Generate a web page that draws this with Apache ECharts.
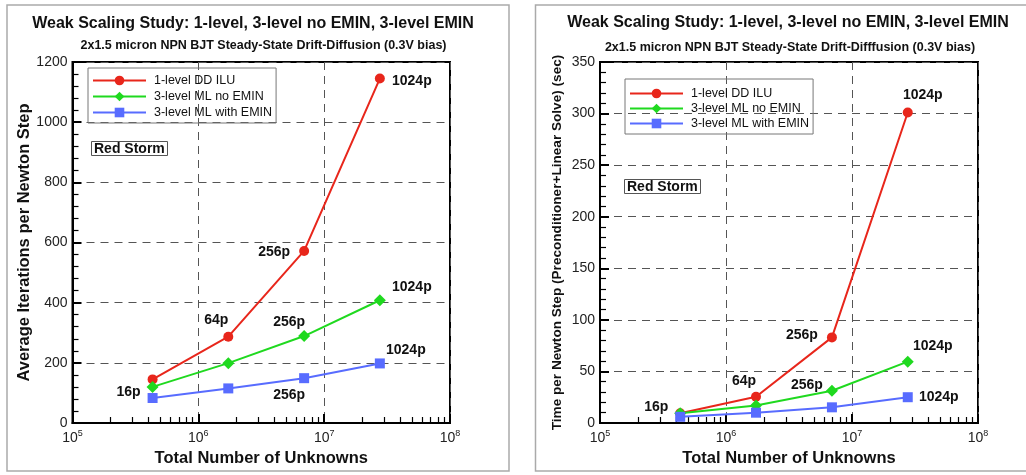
<!DOCTYPE html>
<html><head><meta charset="utf-8">
<script src="https://cdn.jsdelivr.net/npm/echarts@6/dist/echarts.min.js"></script>
<style>html,body{margin:0;padding:0;background:#fff}#c{width:1026px;height:475px}</style>
</head><body><div id="c"></div>
<script>
// ---------- data ----------
const unknowns = [4.33e5, 1.73e6, 6.93e6, 2.77e7];
const seriesNames = ['1-level DD ILU', '3-level ML no EMIN', '3-level ML with EMIN'];
const iterRed   = [145, 287, 572, 1145];
const iterGreen = [120, 199, 289, 408];
const iterBlue  = [83, 115, 149, 198];
const timeRed   = [9.5, 25.5, 83, 301];
const timeGreen = [9.5, 17, 31.3, 59.5];
const timeBlue  = [6, 10, 15.2, 25];
const iterLabelsRed   = ['', '64p', '256p', '1024p'];
const iterLabelsGreen = ['16p', '', '256p', '1024p'];
const iterLabelsBlue  = ['', '', '256p', '1024p'];
const timeLabelsRed   = ['', '64p', '256p', '1024p'];
const timeLabelsGreen = ['16p', '', '256p', '1024p'];
const timeLabelsBlue  = ['', '', '', '1024p'];
const xRange = [1e5, 1e8];
const iterRange = [0, 1200], iterStep = 200;
const timeRange = [0, 350], timeStep = 50;
const mainTitle = 'Weak Scaling Study: 1-level, 3-level no EMIN, 3-level EMIN';
const subTitleL = '2x1.5 micron NPN BJT Steady-State Drift-Diffusion (0.3V bias)';
const subTitleR = '2x1.5 micron NPN BJT Steady-State Drift-Difffusion (0.3V bias)';
const xName = 'Total Number of Unknowns';
const yNameL = 'Average Iterations per Newton Step';
const yNameR = 'Time per Newton Step (Preconditioner+Linear Solve) (sec)';
const boxText = 'Red Storm';

// ---------- styles ----------
const FONT = '"Liberation Sans", Arial, Helvetica, sans-serif';
const colors = ['#e8261b', '#1fd91f', '#586cff'];
const symbols = ['circle', 'diamond', 'rect'];
const symSizes = [10, 12, 10];
const offsL = {
  red:   [null, [-12, -17], [-30, 1], [32, 3]],
  green: [[-24, 5], null, [-15, -14], [32, -13]],
  blue:  [null, null, [-15, 17], [26, -13]]
};
const offsR = {
  red:   [null, [-12, -16], [-30, -2], [15, -17]],
  green: [[-24, -6], null, [-25, -6], [25, -15]],
  blue:  [null, null, null, [31, 0]]
};

function mkSeries(k, ys, labels, offs, gi) {
  return {
    type: 'line', name: seriesNames[k], xAxisIndex: gi, yAxisIndex: gi,
    symbol: symbols[k], symbolSize: symSizes[k], showAllSymbol: true,
    lineStyle: {color: colors[k], width: 2}, itemStyle: {color: colors[k]},
    emphasis: {disabled: true}, z: 3 + k,
    data: ys.map((y, i) => ({
      value: [unknowns[i], y],
      label: labels[i] ? {show: true, formatter: labels[i], position: 'inside', offset: offs[i],
        color: '#111', fontSize: 14, fontWeight: 'bold', fontFamily: FONT, textBorderWidth: 0} : {show: false}
    }))
  };
}

function xAxis(gi) {
  return {
    type: 'log', logBase: 10, min: xRange[0], max: xRange[1], gridIndex: gi,
    name: xName, nameLocation: 'middle', nameGap: 25,
    nameTextStyle: {fontSize: 16.5, fontWeight: 'bold', color: '#111', fontFamily: FONT},
    axisLine: {show: true, lineStyle: {color: '#000', width: 2}},
    axisTick: {show: true, inside: true, length: 9, lineStyle: {color: '#000', width: 2}},
    minorTick: {show: true, splitNumber: 9, length: 6, lineStyle: {color: '#000', width: 1.2}},
    splitLine: {show: true, lineStyle: {color: '#555', type: [8, 6], width: 1}},
    axisLabel: {
      show: true, margin: 6,
      formatter: v => '{b|10}{s|' + Math.round(Math.log10(v)) + '}',
      rich: {
        b: {fontSize: 14, fontFamily: FONT, color: '#222', lineHeight: 16, verticalAlign: 'bottom'},
        s: {fontSize: 9, fontFamily: FONT, color: '#222', lineHeight: 10, verticalAlign: 'top'}
      }
    }
  };
}
function yAxis(gi, range, step, name, nameGap, nameSize) {
  return {
    type: 'value', min: range[0], max: range[1], interval: step, gridIndex: gi,
    name: name, nameLocation: 'middle', nameGap: nameGap, nameRotate: 90,
    nameTextStyle: {fontSize: nameSize, fontWeight: 'bold', color: '#111', fontFamily: FONT},
    axisLine: {show: true, lineStyle: {color: '#000', width: 2}},
    axisTick: {show: true, inside: true, length: 9, lineStyle: {color: '#000', width: 2}},
    minorTick: {show: true, splitNumber: 5, length: 6, lineStyle: {color: '#000', width: 1.2}},
    splitLine: {show: true, lineStyle: {color: '#555', type: [8, 6], width: 1}},
    axisLabel: {show: true, margin: 5, fontSize: 14, fontFamily: FONT, color: '#222', formatter: v => String(v)}
  };
}
function legend(left, top, gap, padTop) {
  return {
    left: left, top: top, orient: 'vertical', itemWidth: 53, itemHeight: 12, itemGap: gap,
    selectedMode: false, borderColor: '#777', borderWidth: 1, padding: [padTop, 4, 4, 4],
    data: seriesNames,
    textStyle: {fontSize: 12.5, color: '#111', fontFamily: FONT, padding: [0, 0, 0, 3]}
  };
}
function txt(x, y, s, size) {
  return {type: 'text', x: x, y: y, silent: true,
    style: {text: s, fontSize: size, fontWeight: 'bold', fontFamily: FONT, fill: '#111', align: 'center', verticalAlign: 'middle'}};
}
function boxTitle(left, top) {
  return {text: boxText, left: left, top: top, padding: [1, 3, 0, 3], borderColor: '#555', borderWidth: 1,
    textStyle: {fontSize: 14, fontWeight: 'bold', color: '#111', fontFamily: FONT, lineHeight: 14}};
}

const chart = echarts.init(document.getElementById('c'), null, {renderer: 'canvas'});
chart.setOption({
  animation: false,
  backgroundColor: '#fff',
  title: [boxTitle(91, 141), boxTitle(624, 179)],
  grid: [
    {left: 72.5, top: 62, width: 377.5, height: 361, show: true, borderColor: '#000', borderWidth: 2, backgroundColor: 'transparent', containLabel: false},
    {left: 600, top: 62, width: 378, height: 361, show: true, borderColor: '#000', borderWidth: 2, backgroundColor: 'transparent', containLabel: false}
  ],
  legend: [legend(88, 68, 3, 6), legend(625, 79, 2, 8)],
  xAxis: [xAxis(0), xAxis(1)],
  yAxis: [yAxis(0, iterRange, iterStep, yNameL, 37, 16.5), yAxis(1, timeRange, timeStep, yNameR, 36, 13.6)],
  graphic: [
    {type: 'rect', shape: {x: 7, y: 5, width: 502, height: 466}, style: {fill: 'none', stroke: '#aaa', lineWidth: 1.5}, silent: true},
    {type: 'rect', shape: {x: 535.5, y: 5, width: 500, height: 466}, style: {fill: 'none', stroke: '#aaa', lineWidth: 1.5}, silent: true},
    txt(253, 24, mainTitle, 16), txt(263.5, 46, subTitleL, 12.5),
    txt(788, 23, mainTitle, 16), txt(790, 47.5, subTitleR, 12.5)
  ],
  series: [
    mkSeries(0, iterRed, iterLabelsRed, offsL.red, 0),
    mkSeries(1, iterGreen, iterLabelsGreen, offsL.green, 0),
    mkSeries(2, iterBlue, iterLabelsBlue, offsL.blue, 0),
    mkSeries(0, timeRed, timeLabelsRed, offsR.red, 1),
    mkSeries(1, timeGreen, timeLabelsGreen, offsR.green, 1),
    mkSeries(2, timeBlue, timeLabelsBlue, offsR.blue, 1)
  ]
});
</script></body></html>
